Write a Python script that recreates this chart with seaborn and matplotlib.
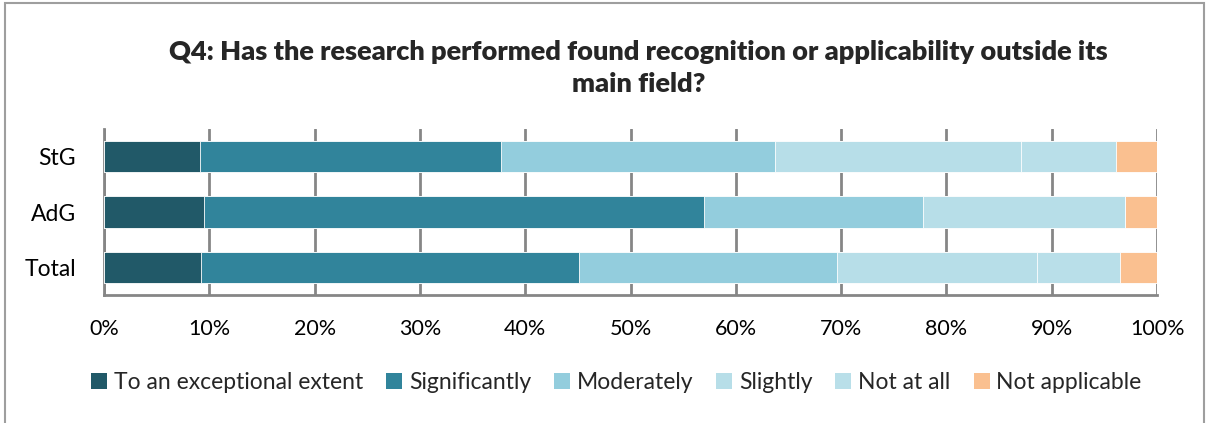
import matplotlib
matplotlib.use("Agg")
import matplotlib.pyplot as plt
import seaborn as sns
import pandas as pd
from matplotlib.patches import Patch, Rectangle
from matplotlib.ticker import PercentFormatter

# data (percent)
groups = ["StG", "AdG", "Total"]
levels = ["To an exceptional extent", "Significantly", "Moderately",
          "Slightly", "Not at all", "Not applicable"]
exceptional = [9.1, 9.5, 9.2]
significantly = [28.6, 47.5, 35.9]
moderately = [26.0, 20.8, 24.5]
slightly = [23.4, 19.2, 19.0]
not_at_all = [9.0, 0.0, 7.9]
not_applicable = [3.9, 3.0, 3.5]

colors = ["#215968", "#31849B", "#93CDDD", "#B7DEE8", "#B9DFE9", "#FAC090"]

sns.set_style("white")
plt.rcParams["font.family"] = ["Lato", "DejaVu Sans"]

df = pd.DataFrame({"group": groups,
                   levels[0]: exceptional, levels[1]: significantly,
                   levels[2]: moderately, levels[3]: slightly,
                   levels[4]: not_at_all, levels[5]: not_applicable})
cum = df[levels].cumsum(axis=1)

fig = plt.figure(figsize=(12.13, 4.23), dpi=100)
ax = fig.add_axes([0.0857, 0.3026, 0.8682, 0.3924])

# stacked bars: draw cumulative totals from the longest down
for lvl, col in reversed(list(zip(levels, colors))):
    sns.barplot(x=cum[lvl], y=df["group"], color=col, width=0.57,
                edgecolor="white", linewidth=0.6, saturation=1, ax=ax, zorder=3)

ax.set_xlim(0, 100)
ax.set_xticks(range(0, 101, 10))
ax.xaxis.set_major_formatter(PercentFormatter(decimals=0))
ax.grid(axis="x", color="#868686", linewidth=2, zorder=0)
ax.set_axisbelow(True)
ax.set_xlabel("")
ax.set_ylabel("")
ax.tick_params(axis="x", labelsize=15.5, length=0, colors="black", pad=17)
ax.tick_params(axis="y", labelsize=16.5, length=0, colors="black", pad=20)
for s in ["top", "right"]:
    ax.spines[s].set_visible(False)
for s in ["left", "bottom"]:
    ax.spines[s].set_color("#868686")
    ax.spines[s].set_linewidth(2)

fig.suptitle("Q4: Has the research performed found recognition or applicability outside its\nmain field?",
             x=0.5265, y=0.905, fontsize=19.5, fontweight="heavy", linespacing=1.4)

handles = [Patch(facecolor=c, edgecolor="none") for c in colors]
fig.legend(handles, levels, loc="center", bbox_to_anchor=(0.508, 0.095), ncol=6,
           frameon=False, fontsize=16.5, handlelength=0.7, handleheight=0.7,
           handletextpad=0.3, columnspacing=1.0)

fig.patches.append(Rectangle((5 / 1213, -0.02), 1199 / 1213, 1.02 - 3 / 423,
                             transform=fig.transFigure, fill=False,
                             edgecolor="#9E9E9E", linewidth=1.5))

fig.savefig("out.png", dpi=100)
